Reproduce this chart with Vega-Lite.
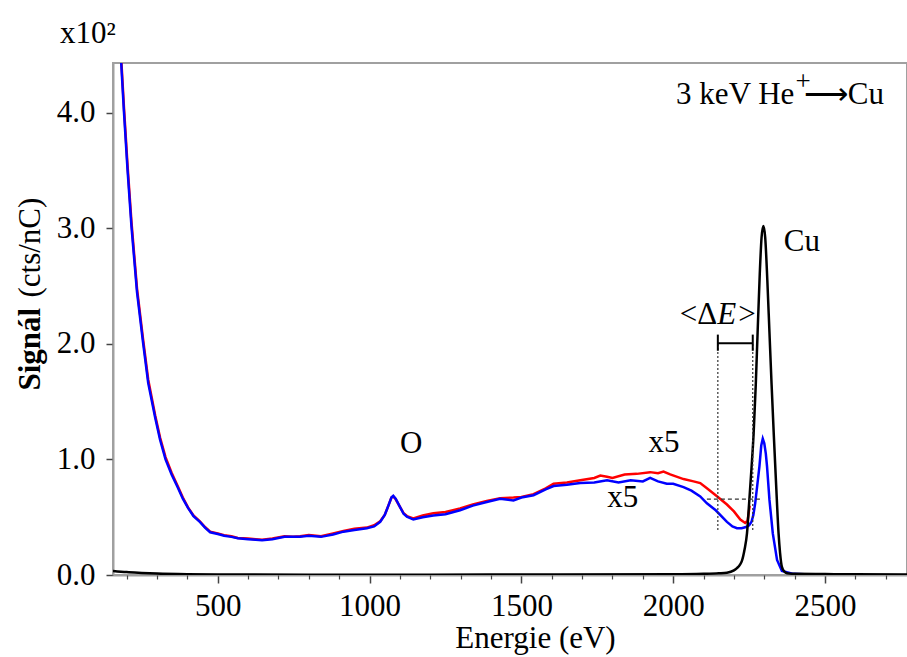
{
  "$schema": "https://vega.github.io/schema/vega-lite/v6.json",
  "width": 794,
  "height": 512,
  "autosize": {"type": "none"},
  "padding": {"left": 113, "top": 63, "right": 0, "bottom": 82},
  "background": "white",
  "config": {
    "view": {"stroke": "#a0a0a0", "strokeWidth": 2},
    "font": "Liberation Serif",
    "text": {"font": "Liberation Serif", "fontSize": 31, "color": "black"}
  },
  "title": {"text": "x10²", "anchor": "start", "frame": "group", "orient": "top", "dx": -53, "dy": 31, "offset": 20, "baseline": "alphabetic", "font": "Liberation Serif", "fontSize": 31, "fontWeight": "normal", "color": "black"},
  "datasets": {
    "red": [
      {"E":158,"S":5.9},{"E":170,"S":5.15},{"E":182,"S":4.47},{"E":191,"S":4.05},{"E":203,"S":3.54},{"E":216,"S":3.05},{"E":234,"S":2.48},{"E":254,"S":2.04},{"E":271,"S":1.69},{"E":294,"S":1.38},{"E":310,"S":1.19},{"E":328,"S":1.02},{"E":348,"S":0.885},{"E":368,"S":0.77},{"E":385,"S":0.67},{"E":402,"S":0.585},{"E":420,"S":0.515},{"E":441,"S":0.465},{"E":458,"S":0.415},{"E":475,"S":0.375},{"E":500,"S":0.36},{"E":521,"S":0.345},{"E":545,"S":0.335},{"E":566,"S":0.32},{"E":600,"S":0.315},{"E":625,"S":0.31},{"E":646,"S":0.305},{"E":680,"S":0.315},{"E":720,"S":0.335},{"E":748,"S":0.33},{"E":771,"S":0.335},{"E":800,"S":0.345},{"E":840,"S":0.335},{"E":880,"S":0.36},{"E":914,"S":0.38},{"E":950,"S":0.4},{"E":991,"S":0.41},{"E":1015,"S":0.43},{"E":1035,"S":0.465},{"E":1050,"S":0.52},{"E":1062,"S":0.6},{"E":1072,"S":0.67},{"E":1078,"S":0.68},{"E":1086,"S":0.655},{"E":1100,"S":0.59},{"E":1112,"S":0.535},{"E":1123,"S":0.51},{"E":1144,"S":0.49},{"E":1175,"S":0.515},{"E":1210,"S":0.535},{"E":1250,"S":0.545},{"E":1298,"S":0.575},{"E":1340,"S":0.61},{"E":1386,"S":0.64},{"E":1430,"S":0.665},
      {"E":1474,"S":0.67},{"E":1500,"S":0.675},{"E":1540,"S":0.7},{"E":1580,"S":0.75},{"E":1606,"S":0.79},{"E":1650,"S":0.8},{"E":1694,"S":0.82},{"E":1740,"S":0.84},{"E":1760,"S":0.86},{"E":1782,"S":0.85},{"E":1800,"S":0.84},{"E":1840,"S":0.87},{"E":1880,"S":0.875},{"E":1924,"S":0.89},{"E":1950,"S":0.88},{"E":1968,"S":0.895},{"E":1990,"S":0.87},{"E":2034,"S":0.83},{"E":2067,"S":0.81},{"E":2089,"S":0.795},{"E":2111,"S":0.75},{"E":2140,"S":0.69},{"E":2177,"S":0.61},{"E":2200,"S":0.55},{"E":2221,"S":0.48},{"E":2237,"S":0.45},{"E":2245,"S":0.47},{"E":2252,"S":0.6}
    ],
    "blue": [
      {"E":158,"S":5.85},{"E":170,"S":5.1},{"E":182,"S":4.43},{"E":191,"S":4.01},{"E":203,"S":3.5},{"E":216,"S":3.01},{"E":234,"S":2.45},{"E":254,"S":2.01},{"E":271,"S":1.66},{"E":294,"S":1.36},{"E":310,"S":1.17},{"E":328,"S":1.0},{"E":348,"S":0.87},{"E":368,"S":0.76},{"E":385,"S":0.66},{"E":402,"S":0.58},{"E":420,"S":0.51},{"E":441,"S":0.46},{"E":458,"S":0.41},{"E":475,"S":0.37},{"E":500,"S":0.355},{"E":521,"S":0.34},{"E":545,"S":0.33},{"E":566,"S":0.318},{"E":600,"S":0.31},{"E":625,"S":0.305},{"E":646,"S":0.3},{"E":680,"S":0.31},{"E":720,"S":0.33},{"E":748,"S":0.33},{"E":771,"S":0.33},{"E":800,"S":0.34},{"E":840,"S":0.33},{"E":880,"S":0.35},{"E":914,"S":0.375},{"E":950,"S":0.39},{"E":991,"S":0.405},{"E":1015,"S":0.42},{"E":1035,"S":0.46},{"E":1050,"S":0.52},{"E":1062,"S":0.6},{"E":1072,"S":0.67},{"E":1078,"S":0.685},{"E":1086,"S":0.66},{"E":1100,"S":0.59},{"E":1112,"S":0.53},{"E":1123,"S":0.505},{"E":1144,"S":0.48},{"E":1175,"S":0.5},{"E":1210,"S":0.515},{"E":1250,"S":0.525},{"E":1298,"S":0.56},{"E":1340,"S":0.6},{"E":1386,"S":0.632},{"E":1430,"S":0.66},{"E":1474,"S":0.645},{"E":1500,"S":0.67},{"E":1540,"S":0.69},{"E":1580,"S":0.74},{"E":1606,"S":0.77},{"E":1650,"S":0.78},{"E":1694,"S":0.795},{"E":1740,"S":0.8},{"E":1782,"S":0.82},{"E":1820,"S":0.8},{"E":1860,"S":0.82},{"E":1900,"S":0.81},{"E":1924,"S":0.84},{"E":1950,"S":0.81},{"E":1979,"S":0.79},{"E":2000,"S":0.79},{"E":2034,"S":0.76},{"E":2060,"S":0.73},{"E":2089,"S":0.68},{"E":2111,"S":0.62},{"E":2140,"S":0.56},{"E":2177,"S":0.46},{"E":2195,"S":0.42},{"E":2210,"S":0.405},{"E":2225,"S":0.405},{"E":2240,"S":0.415},{"E":2250,"S":0.43},{"E":2258,"S":0.46},{"E":2264,"S":0.52},{"E":2270,"S":0.62},{"E":2277,"S":0.78},{"E":2284,"S":0.94},{"E":2290,"S":1.12},{"E":2295,"S":1.18},{"E":2300,"S":1.14},{"E":2305,"S":1.05},{"E":2309,"S":0.94},{"E":2317,"S":0.65},{"E":2328,"S":0.36},{"E":2342,"S":0.13},{"E":2358,"S":0.035},{"E":2396,"S":0.01},{"E":2450,"S":0.005},{"E":2550,"S":0.0}
    ],
    "black": [
      {"E":155,"S":0.035},{"E":200,"S":0.025},{"E":250,"S":0.018},{"E":300,"S":0.012},{"E":400,"S":0.006},{"E":500,"S":0.004},{"E":800,"S":0.003},{"E":1200,"S":0.003},{"E":1600,"S":0.004},{"E":2000,"S":0.006},{"E":2100,"S":0.01},{"E":2150,"S":0.015},{"E":2177,"S":0.02},{"E":2200,"S":0.04},{"E":2210,"S":0.06},{"E":2220,"S":0.09},{"E":2226,"S":0.12},{"E":2235,"S":0.22},{"E":2243,"S":0.36},{"E":2250,"S":0.62},{"E":2258,"S":0.93},{"E":2265,"S":1.23},{"E":2272,"S":1.65},{"E":2278,"S":2.1},{"E":2285,"S":2.6},{"E":2291,"S":2.92},{"E":2297,"S":3.02},{"E":2303,"S":2.92},{"E":2310,"S":2.55},{"E":2317,"S":2.1},{"E":2324,"S":1.65},{"E":2331,"S":1.23},{"E":2339,"S":0.78},{"E":2347,"S":0.36},{"E":2352,"S":0.19},{"E":2358,"S":0.07},{"E":2366,"S":0.03},{"E":2375,"S":0.015},{"E":2400,"S":0.01},{"E":2500,"S":0.008},{"E":2600,"S":0.006},{"E":2770,"S":0.005}
    ],
    "vlines": [{"E":2147,"S":0.39,"S2":2.0},{"E":2262,"S":0.39,"S2":2.0}],
    "hline": [{"E":2111,"E2":2292,"S":0.657}],
    "bar": [{"E":2147,"E2":2262,"S":2.005}],
    "caps": [{"E":2147,"S":1.94,"S2":2.08},{"E":2262,"S":1.94,"S2":2.08}],
    "labelsCenter": [{"t":"O","E":1137,"S":1.058},{"t":"x5","E":1970,"S":1.067},{"t":"x5","E":1834,"S":0.59},{"t":"Cu","E":2424,"S":2.8}],
    "labelsLeft": [{"t":"⟶Cu","E":2430,"S":4.076},{"t":">","E":2214,"S":2.17}],
    "labelsRight": [{"t":"<Δ","E":2145,"S":2.17},{"t":"3 keV He","E":2399,"S":4.076}],
    "labelsItalic": [{"t":"E","E":2145,"S":2.17}],
    "labelsSup": [{"t":"+","E":2403,"S":4.2}]
  },
  "layer": [
    {
      "data": {"name": "red"},
      "mark": {"type": "line", "color": "#ff0000", "strokeWidth": 2.5, "clip": true},
      "encoding": {
        "x": {"field": "E", "type": "quantitative", "scale": {"domain": [155, 2770], "nice": false, "zero": false},
          "axis": {"orient": "bottom", "values": [500,1000,1500,2000,2500],
            "format": "d", "tickSize": 8,
            "tickColor": "#444", "tickWidth": 1.5, "domainColor": "#a0a0a0", "domainWidth": 2, "grid": false,
            "labelFont": "Liberation Serif", "labelFontSize": 31, "labelColor": "black", "labelPadding": 8, "labelFlush": false, "labelOverlap": false,
            "title": "Energie (eV)", "titleFont": "Liberation Serif", "titleFontSize": 31, "titleFontWeight": "normal", "titleColor": "black",
            "titleX": 422, "titleY": 72, "titleBaseline": "alphabetic", "titleAlign": "center"}},
        "y": {"field": "S", "type": "quantitative", "scale": {"domain": [0, 4.43], "nice": false, "zero": false},
          "axis": {"orient": "left", "values": [0,1,2,3,4], "format": ".1f", "tickSize": 7, "tickColor": "#444", "tickWidth": 1.5,
            "domainColor": "#a0a0a0", "domainWidth": 2, "grid": false,
            "labelFont": "Liberation Serif", "labelFontSize": 31, "labelColor": "black", "labelPadding": 11, "labelFlush": false, "labelOverlap": false,
            "title": "Signál", "titleFont": "Liberation Serif", "titleFontSize": 31, "titleFontWeight": "bold", "titleColor": "black",
            "titleAngle": 270, "titleAlign": "left", "titleBaseline": "alphabetic", "titleX": -74, "titleY": 327}}
      }
    },
    {
      "data": {"name": "blue"},
      "mark": {"type": "line", "color": "#0000ff", "strokeWidth": 2.5, "clip": true},
      "encoding": {
        "x": {"field": "E", "type": "quantitative",
          "axis": {"orient": "bottom", "values": [200,300,400,600,700,800,900,1100,1200,1300,1400,1600,1700,1800,1900,2100,2200,2300,2400,2600,2700],
            "tickSize": 4, "tickColor": "#444", "tickWidth": 1.2, "domain": false, "labels": false, "grid": false, "title": null}},
        "y": {"field": "S", "type": "quantitative", "axis": null}
      }
    },
    {
      "data": {"name": "black"},
      "mark": {"type": "line", "color": "#000000", "strokeWidth": 2.5, "clip": true, "interpolate": "monotone"},
      "encoding": {
        "x": {"field": "E", "type": "quantitative", "axis": null},
        "y": {"field": "S", "type": "quantitative", "axis": null}
      }
    },
    {
      "data": {"name": "vlines"},
      "mark": {"type": "rule", "color": "#333", "strokeWidth": 1.2, "strokeDash": [2, 2]},
      "encoding": {
        "x": {"field": "E", "type": "quantitative", "axis": null},
        "y": {"field": "S", "type": "quantitative", "axis": null},
        "y2": {"field": "S2"}
      }
    },
    {
      "data": {"name": "hline"},
      "mark": {"type": "rule", "color": "#333", "strokeWidth": 1.2, "strokeDash": [4, 3]},
      "encoding": {
        "x": {"field": "E", "type": "quantitative", "axis": null},
        "x2": {"field": "E2"},
        "y": {"field": "S", "type": "quantitative", "axis": null}
      }
    },
    {
      "data": {"name": "bar"},
      "mark": {"type": "rule", "color": "#000", "strokeWidth": 2},
      "encoding": {
        "x": {"field": "E", "type": "quantitative", "axis": null},
        "x2": {"field": "E2"},
        "y": {"field": "S", "type": "quantitative", "axis": null}
      }
    },
    {
      "data": {"name": "caps"},
      "mark": {"type": "rule", "color": "#000", "strokeWidth": 2},
      "encoding": {
        "x": {"field": "E", "type": "quantitative", "axis": null},
        "y": {"field": "S", "type": "quantitative", "axis": null},
        "y2": {"field": "S2"}
      }
    },
    {
      "data": {"name": "labelsCenter"},
      "mark": {"type": "text", "align": "center", "baseline": "alphabetic", "font": "Liberation Serif", "fontSize": 31, "color": "black"},
      "encoding": {
        "x": {"field": "E", "type": "quantitative", "axis": null},
        "y": {"field": "S", "type": "quantitative",
          "axis": {"orient": "left", "domain": false, "ticks": false, "labels": false, "grid": false,
            "title": "(cts/nC)", "titleFont": "Liberation Serif", "titleFontSize": 31, "titleFontWeight": "normal", "titleColor": "black",
            "titleAngle": 270, "titleAlign": "left", "titleBaseline": "alphabetic", "titleX": -74, "titleY": 234}},
        "text": {"field": "t"}
      }
    },
    {
      "data": {"name": "labelsLeft"},
      "mark": {"type": "text", "align": "left", "baseline": "alphabetic", "font": "Liberation Serif", "fontSize": 31, "color": "black"},
      "encoding": {
        "x": {"field": "E", "type": "quantitative", "axis": null},
        "y": {"field": "S", "type": "quantitative", "axis": null},
        "text": {"field": "t"}
      }
    },
    {
      "data": {"name": "labelsRight"},
      "mark": {"type": "text", "align": "right", "baseline": "alphabetic", "font": "Liberation Serif", "fontSize": 31, "color": "black"},
      "encoding": {
        "x": {"field": "E", "type": "quantitative", "axis": null},
        "y": {"field": "S", "type": "quantitative", "axis": null},
        "text": {"field": "t"}
      }
    },
    {
      "data": {"name": "labelsItalic"},
      "mark": {"type": "text", "align": "left", "baseline": "alphabetic", "font": "Liberation Serif", "fontSize": 31, "fontStyle": "italic", "color": "black"},
      "encoding": {
        "x": {"field": "E", "type": "quantitative", "axis": null},
        "y": {"field": "S", "type": "quantitative", "axis": null},
        "text": {"field": "t"}
      }
    },
    {
      "data": {"name": "labelsSup"},
      "mark": {"type": "text", "align": "left", "baseline": "alphabetic", "font": "Liberation Serif", "fontSize": 27, "color": "black"},
      "encoding": {
        "x": {"field": "E", "type": "quantitative", "axis": null},
        "y": {"field": "S", "type": "quantitative", "axis": null},
        "text": {"field": "t"}
      }
    }
  ],
  "resolve": {"axis": {"x": "independent", "y": "independent"}}
}
